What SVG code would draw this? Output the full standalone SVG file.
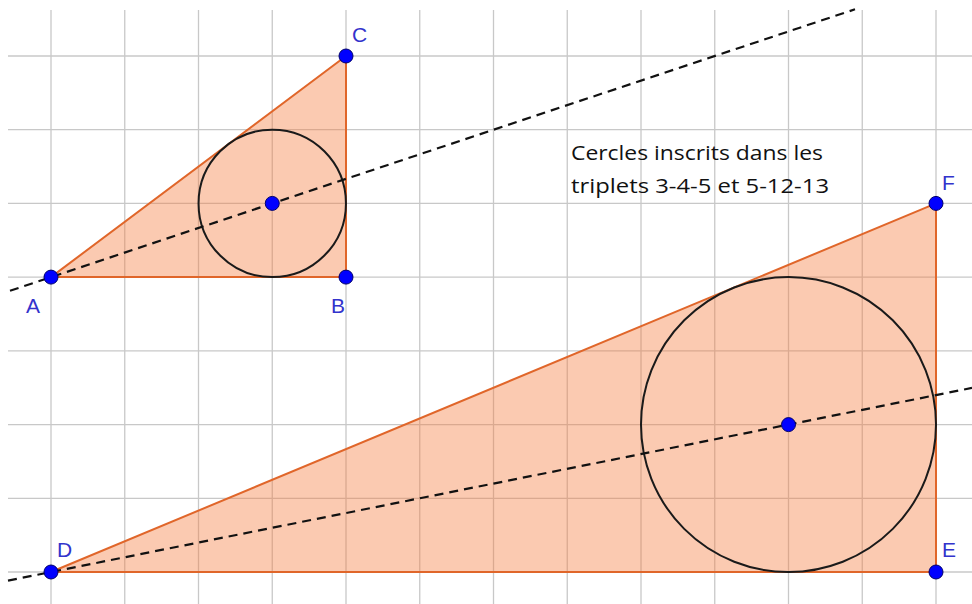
<svg xmlns="http://www.w3.org/2000/svg" width="972" height="604" viewBox="0 0 972 604">
<style>
.grid line{stroke:#c8c8c8;stroke-width:1.3}
.tri{fill:#f47b3c;fill-opacity:0.4;stroke:#e0662a;stroke-width:2;stroke-linejoin:round}
.inc{fill:none;stroke:#1a1a1a;stroke-width:2}
.dash{stroke:#111;stroke-width:2.2;stroke-dasharray:9 6;fill:none}
.pt{fill:#0000ff;stroke:#00006a;stroke-width:1}
.lbl{font-family:"Liberation Sans",Arial,sans-serif;font-size:21px;fill:#3333cc}
.note{font-family:"Open Sans","Liberation Sans",sans-serif;font-size:20.5px;fill:#111111}
</style>
<rect width="972" height="604" fill="#ffffff"/>
<g class="grid" id="grid">
<line x1="51" y1="10" x2="51" y2="604"/>
<line x1="124.75" y1="10" x2="124.75" y2="604"/>
<line x1="198.5" y1="10" x2="198.5" y2="604"/>
<line x1="272.25" y1="10" x2="272.25" y2="604"/>
<line x1="346" y1="10" x2="346" y2="604"/>
<line x1="419.75" y1="10" x2="419.75" y2="604"/>
<line x1="493.5" y1="10" x2="493.5" y2="604"/>
<line x1="567.25" y1="10" x2="567.25" y2="604"/>
<line x1="641" y1="10" x2="641" y2="604"/>
<line x1="714.75" y1="10" x2="714.75" y2="604"/>
<line x1="788.5" y1="10" x2="788.5" y2="604"/>
<line x1="862.25" y1="10" x2="862.25" y2="604"/>
<line x1="936" y1="10" x2="936" y2="604"/>
<line x1="8" y1="56" x2="972" y2="56"/>
<line x1="8" y1="129.7" x2="972" y2="129.7"/>
<line x1="8" y1="203.4" x2="972" y2="203.4"/>
<line x1="8" y1="277.1" x2="972" y2="277.1"/>
<line x1="8" y1="350.9" x2="972" y2="350.9"/>
<line x1="8" y1="424.6" x2="972" y2="424.6"/>
<line x1="8" y1="498.3" x2="972" y2="498.3"/>
<line x1="8" y1="572" x2="972" y2="572"/>
</g>
<g id="triangle-ABC">
<polygon class="tri" points="51,277.1 346,277.1 346,56"/>
<circle class="inc" cx="272.25" cy="203.4" r="73.7"/>
</g>
<g id="triangle-DEF">
<polygon class="tri" points="51,572 936,572 936,203.4"/>
<circle class="inc" cx="788.5" cy="424.6" r="147.5"/>
</g>
<g id="connectors">
<line class="dash" x1="10" y1="290.8" x2="855" y2="9.3"/>
<line class="dash" x1="8" y1="580.6" x2="972" y2="387.9"/>
</g>
<g id="A"><circle class="pt" cx="51" cy="277.1" r="7"/><text class="lbl" x="26" y="313">A</text></g>
<g id="B"><circle class="pt" cx="346" cy="277.1" r="7"/><text class="lbl" x="331" y="313">B</text></g>
<g id="C"><circle class="pt" cx="346" cy="56" r="7"/><text class="lbl" x="352" y="42">C</text></g>
<g id="I1"><circle class="pt" cx="272.25" cy="203.4" r="7"/></g>
<g id="D"><circle class="pt" cx="51" cy="572" r="7"/><text class="lbl" x="57" y="557">D</text></g>
<g id="E"><circle class="pt" cx="936" cy="572" r="7"/><text class="lbl" x="942" y="557">E</text></g>
<g id="F"><circle class="pt" cx="936" cy="203.4" r="7"/><text class="lbl" x="942" y="190">F</text></g>
<g id="I2"><circle class="pt" cx="788.5" cy="424.6" r="7"/></g>
<g id="note">
<text class="note" x="571" y="160" textLength="252" lengthAdjust="spacingAndGlyphs">Cercles inscrits dans les</text>
<text class="note" x="571" y="193" textLength="258" lengthAdjust="spacingAndGlyphs">triplets 3-4-5 et 5-12-13</text>
</g>
</svg>
